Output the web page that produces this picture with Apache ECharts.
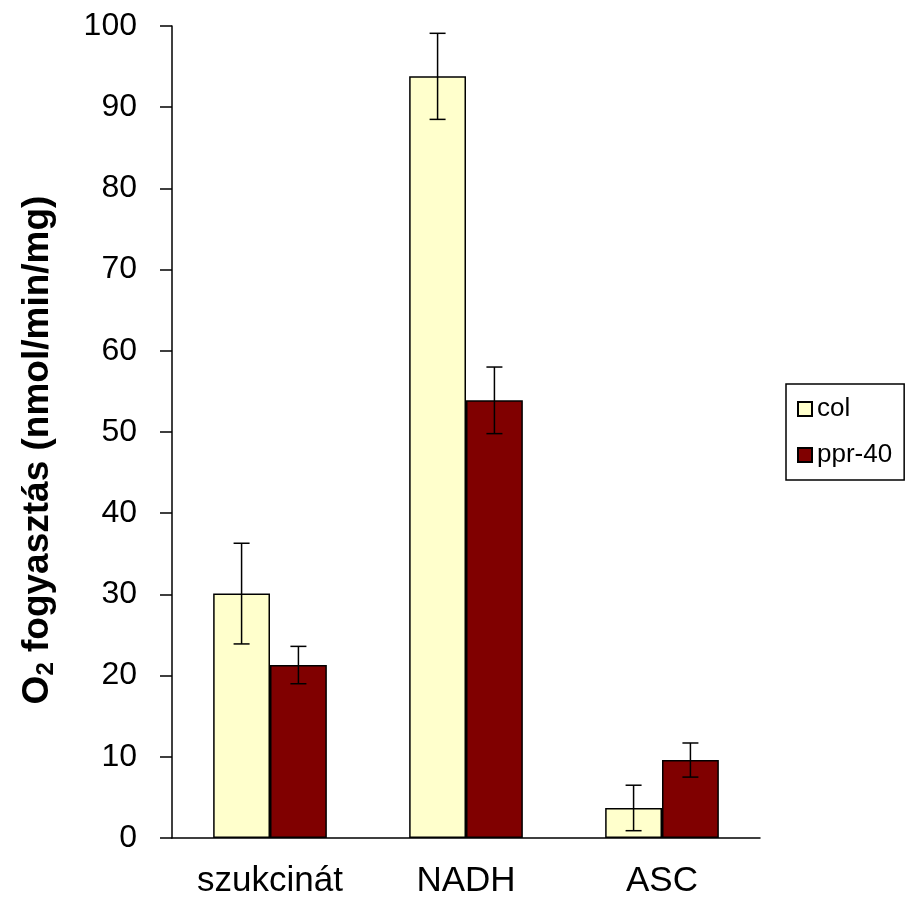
<!DOCTYPE html>
<html>
<head>
<meta charset="utf-8">
<script src="https://cdn.jsdelivr.net/npm/echarts@6/dist/echarts.min.js"></script>
<style>
html,body{margin:0;padding:0;background:#fff;}
#chart{width:905px;height:899px;}
</style>
</head>
<body>
<div id="chart"></div>
<script>
const categories = ['szukcinát', 'NADH', 'ASC'];
const seriesNames = ['col', 'ppr-40'];
const colValues = [30.1, 93.8, 3.7];
const colErrors = [6.2, 5.3, 2.8];
const pprValues = [21.3, 53.9, 9.6];
const pprErrors = [2.3, 4.1, 2.1];
const yMin = 0, yMax = 100, yInterval = 10;
const yAxisTitle = '{a|O}{s|2}{a| fogyasztás (nmol/min/mg)}';

const FONT = 'Liberation Sans, Arial, sans-serif';
const CAT_GAP = 0.42;

function errData(values, errors, side) {
  return values.map((v, i) => [i, v - errors[i], v + errors[i], side]);
}

function renderErr(params, api) {
  const i = api.value(0);
  const lo = api.coord([i, api.value(1)]);
  const hi = api.coord([i, api.value(2)]);
  const side = api.value(3);
  const catW = api.size([1, 0])[0];
  const bw = catW * (1 - CAT_GAP) / 2;
  const x = lo[0] + side * bw / 2;
  const cap = 8;
  const style = { stroke: '#000', lineWidth: 1.5 };
  return {
    type: 'group',
    children: [
      { type: 'line', shape: { x1: x, y1: lo[1], x2: x, y2: hi[1] }, style },
      { type: 'line', shape: { x1: x - cap, y1: hi[1], x2: x + cap, y2: hi[1] }, style },
      { type: 'line', shape: { x1: x - cap, y1: lo[1], x2: x + cap, y2: lo[1] }, style }
    ]
  };
}

const chart = echarts.init(document.getElementById('chart'), null, { renderer: 'canvas' });
chart.setOption({
  animation: false,
  backgroundColor: '#fff',
  grid: { left: 172, right: 145, top: 26, bottom: 61, containLabel: false },
  graphic: [{
    type: 'text',
    x: 38,
    y: 450,
    rotation: Math.PI / 2,
    style: {
      text: yAxisTitle,
      align: 'center',
      verticalAlign: 'middle',
      rich: {
        a: { fontFamily: FONT, fontSize: 37, fontWeight: 'bold', fill: '#000' },
        s: { fontFamily: FONT, fontSize: 24, fontWeight: 'bold', fill: '#000', verticalAlign: 'bottom', padding: [16, 0, 0, 0] }
      }
    }
  }],
  legend: {
    data: seriesNames,
    orient: 'vertical',
    left: 786,
    top: 384,
    itemWidth: 14,
    itemHeight: 14,
    itemGap: 20,
    padding: [12, 12, 12, 11],
    borderColor: '#000',
    borderWidth: 1.5,
    textStyle: { fontFamily: FONT, fontSize: 26, color: '#000' },
    icon: 'rect'
  },
  xAxis: {
    type: 'category',
    data: categories,
    axisLine: { lineStyle: { color: '#000', width: 1.5 } },
    axisTick: { length: 12, lineStyle: { color: '#000', width: 1.5 } },
    axisLabel: { fontFamily: FONT, fontSize: 35, color: '#000', margin: 26 }
  },
  yAxis: {
    type: 'value',
    min: yMin,
    max: yMax,
    interval: yInterval,
    axisLine: { show: true, lineStyle: { color: '#000', width: 1.5 } },
    axisTick: { show: true, length: 12, lineStyle: { color: '#000', width: 1.5 } },
    axisLabel: { fontFamily: FONT, fontSize: 32, color: '#000', margin: 35 },
    splitLine: { show: false }
  },
  series: [
    {
      name: 'col', type: 'bar', data: colValues,
      barGap: '0%', barCategoryGap: (CAT_GAP * 100) + '%',
      itemStyle: { color: '#FFFFCC', borderColor: '#000', borderWidth: 1.5 }
    },
    {
      name: 'ppr-40', type: 'bar', data: pprValues,
      barGap: '0%', barCategoryGap: (CAT_GAP * 100) + '%',
      itemStyle: { color: '#800000', borderColor: '#000', borderWidth: 1.5 }
    },
    {
      type: 'custom', renderItem: renderErr, data: errData(colValues, colErrors, -1),
      encode: { x: 0, y: [1, 2] }, z: 10, silent: true
    },
    {
      type: 'custom', renderItem: renderErr, data: errData(pprValues, pprErrors, 1),
      encode: { x: 0, y: [1, 2] }, z: 10, silent: true
    }
  ]
});
</script>
</body>
</html>
